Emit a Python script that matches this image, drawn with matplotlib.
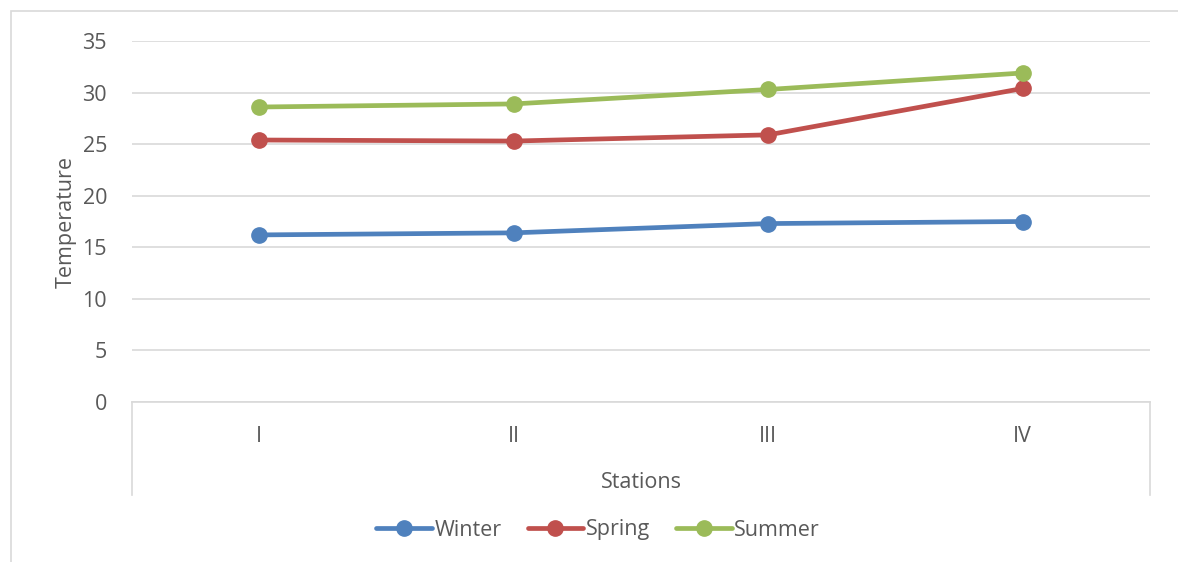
import matplotlib.pyplot as plt
from matplotlib.patches import Rectangle

# temperature by station and season
stations = ['I', 'II', 'III', 'IV']
winter = [16.2, 16.4, 17.3, 17.5]
spring = [25.4, 25.3, 25.9, 30.4]
summer = [28.6, 28.9, 30.3, 31.9]

series = [('Winter', winter, '#4F81BD'),
          ('Spring', spring, '#C0504D'),
          ('Summer', summer, '#9BBB59')]

text_color = '#595959'
grid_color = '#D9D9D9'
fs = 15.5
plt.rcParams['font.family'] = ['Open Sans', 'DejaVu Sans']

W, H = 1178, 562
fig = plt.figure(figsize=(W / 100, H / 100), dpi=100)

# light chart-area border
fig.patches.append(Rectangle((11 / W, -0.1), 1.2, (H - 11) / H + 0.1,
                             transform=fig.transFigure, fill=False,
                             edgecolor=grid_color, linewidth=1.2))

ax = fig.add_axes([132 / W, (H - 402) / H, 1018 / W, 361 / H])
x = list(range(len(stations)))
for name, vals, col in series:
    ax.plot(x, vals, color=col, linewidth=3.4, marker='o', markersize=11,
            solid_capstyle='round', label=name)

ax.set_xlim(-0.5, len(stations) - 0.5)
ax.set_ylim(0, 35)
ax.set_yticks(range(0, 36, 5))
ax.set_xticks(x)
ax.set_xticklabels(stations)
ax.yaxis.grid(True, color=grid_color, linewidth=1.2)
ax.set_axisbelow(True)
for s in ['top', 'right', 'left']:
    ax.spines[s].set_visible(False)
ax.spines['bottom'].set_color(grid_color)
ax.spines['bottom'].set_linewidth(1.2)
ax.tick_params(axis='both', length=0, labelsize=fs, colors=text_color)
ax.tick_params(axis='y', pad=18)
ax.tick_params(axis='x', pad=17)

# category axis side lines
for xe in (0, 1):
    ax.plot([xe, xe], [0, -93 / 361], transform=ax.transAxes,
            color=grid_color, linewidth=1.2, clip_on=False)

ax.set_ylabel('Temperature', fontsize=fs, color=text_color, labelpad=4)
ax.set_xlabel('Stations', fontsize=fs, color=text_color, labelpad=18)

fig.legend(loc='center', bbox_to_anchor=(598 / W, (H - 530) / H), ncol=3,
           frameon=False, fontsize=fs, handlelength=2.6, handletextpad=0.1,
           columnspacing=1.2, labelcolor=text_color)

fig.savefig('out.png', dpi=100)
